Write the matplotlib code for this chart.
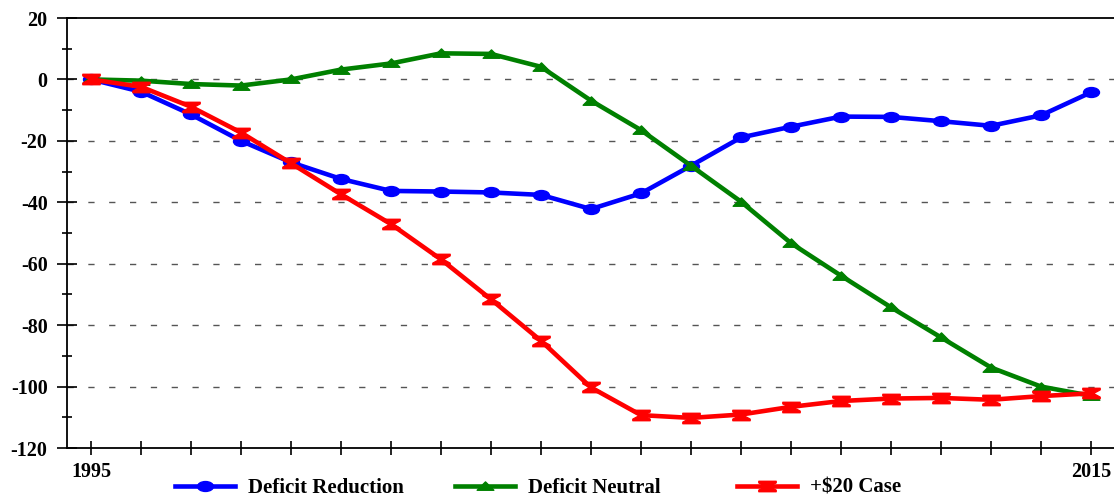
import numpy as np
import matplotlib
matplotlib.use("Agg")
import matplotlib.pyplot as plt
from matplotlib.path import Path

years = list(range(1995, 2016))
deficit_reduction = [0, -4, -11.4, -20, -27, -32.4, -36.3, -36.5, -36.8, -37.6, -42.2,
                     -37.1, -28.1, -18.9, -15.4, -12.1, -12.2, -13.6, -15.1, -11.7, -4.2]
deficit_neutral = [0, -0.4, -1.5, -2, 0, 3.2, 5.2, 8.5, 8.3, 4.1, -6.9,
                   -16.5, -28.1, -39.8, -53.3, -63.9, -74.2, -84, -93.8, -100, -103]
plus20_case = [0, -2.4, -8.9, -17.3, -27.3, -37.4, -47.1, -58.6, -71.6, -85.1, -100.3,
               -109.3, -110.2, -109.1, -106.6, -104.7, -103.9, -103.7, -104.3, -103.1, -102.2]
labels = ["Deficit Reduction", "Deficit Neutral", "+$20 Case"]
yticks = [20, 0, -20, -40, -60, -80, -100, -120]

# custom markers (flattened circle, wide triangle, hourglass)
circ = Path.unit_circle()
ellipse = Path(circ.vertices * np.array([1.0, 0.62]), circ.codes)
tri = Path([(0, 0.55), (-1, -0.45), (1, -0.45), (0, 0.55)], closed=True)
hourglass = Path([(-1, 0.6), (1, 0.6), (1, 0.42), (0.22, 0), (1, -0.42), (1, -0.6),
                  (-1, -0.6), (-1, -0.42), (-0.22, 0), (-1, 0.42), (-1, 0.6)], closed=True)

plt.rcParams['font.family'] = ['Liberation Serif', 'DejaVu Serif']
plt.rcParams['font.weight'] = 'bold'
plt.rcParams['axes.unicode_minus'] = False

fig = plt.figure(figsize=(11.14, 5), dpi=100)
ax = fig.add_axes([67 / 1114, 52 / 500, 1 - 67 / 1114, 430 / 500])

l1, = ax.plot(years, deficit_reduction, color='#0000ff', lw=3.3, marker=ellipse, ms=11.5,
              label=labels[0], zorder=3)
l2, = ax.plot(years, deficit_neutral, color='#008000', lw=3.3, marker=tri, ms=12,
              label=labels[1], zorder=3)
l3, = ax.plot(years, plus20_case, color='#ff0000', lw=3.3, marker=hourglass, ms=12.5,
              label=labels[2], zorder=4)

ax.set_xlim(1994.52, 2015.46)
ax.set_ylim(-120, 20)
ax.set_yticks(yticks)
ax.set_yticks(range(-110, 20, 20), minor=True)
ax.set_xticks(years)
ax.set_xticklabels([str(y) if y in (1995, 2015) else "" for y in years])

for yv in yticks[1:-1]:
    ax.axhline(yv, color='#555555', lw=1, dashes=(4.5, 10.5), zorder=1)

ax.tick_params(axis='y', which='major', direction='inout', length=14, width=1.2,
               labelsize=14.5, pad=7)
ax.tick_params(axis='y', which='minor', direction='inout', length=6.5, width=1.2)
ax.tick_params(axis='x', which='major', direction='inout', length=9.5, width=1.2,
               labelsize=14.5, pad=5)

ax.spines['right'].set_visible(False)
for s in ['left', 'bottom', 'top']:
    ax.spines[s].set_linewidth(1.3)

# legend entries spaced evenly along the bottom
for h, lab, xpx in zip([l1, l2, l3], labels, [175, 455, 737]):
    fig.legend([h], [lab], loc='center left', bbox_to_anchor=(xpx / 1114, 0.024),
               frameon=False, numpoints=1, handlelength=2.9, handletextpad=0.6,
               borderpad=0, borderaxespad=0, prop={'size': 15, 'weight': 'bold'})

fig.savefig("out.png", dpi=100)
